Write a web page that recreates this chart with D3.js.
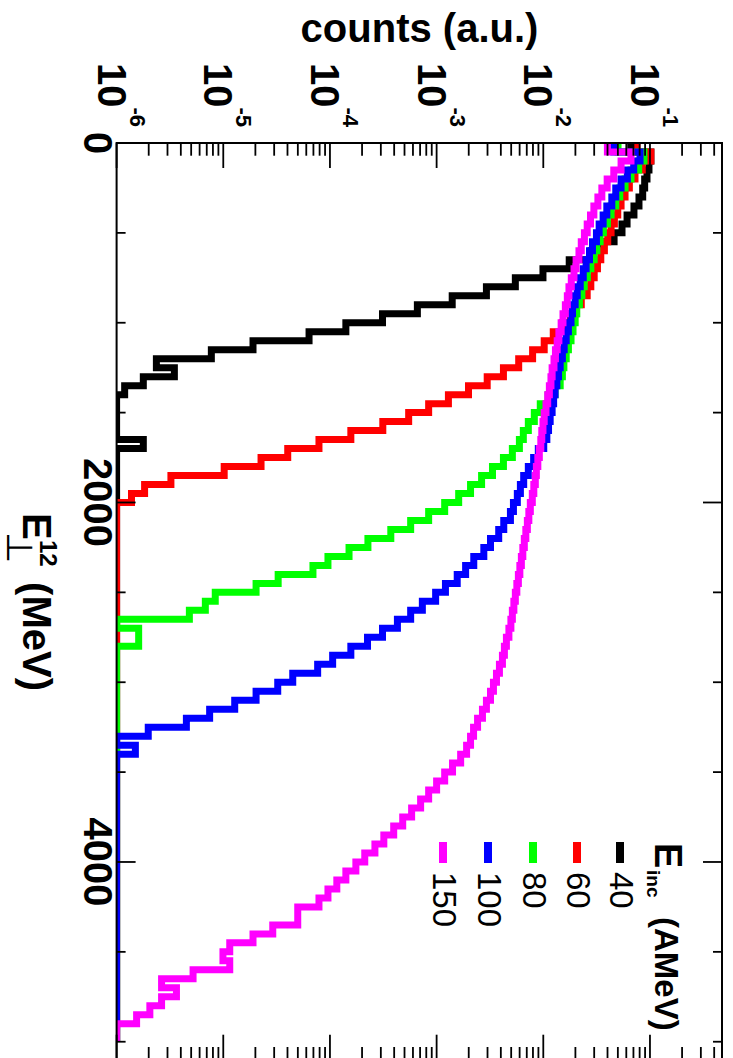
<!DOCTYPE html>
<html><head><meta charset="utf-8">
<script src="https://cdn.jsdelivr.net/npm/d3@7"></script>
<style>html,body{margin:0;padding:0;background:#fff}svg{display:block}</style>
</head><body>
<svg id="c" width="733" height="1058"></svg>
<script>
// ---------------- data ----------------
const binWidth = 50; // MeV, bins from 0 to 5000
const energies = ["40", "60", "80", "100", "150"];
const colors = ["#000000", "#ff0000", "#00ff00", "#0000ff", "#ff00ff"];
const xTickValues = [0, 500, 1000, 1500, 2000, 2500, 3000, 3500, 4000, 4500, 5000];
const xTickLabels = ["0", "2000", "4000"];
const yDecades = [-6, -5, -4, -3, -2, -1];

const counts40 = [
 0.0660,0.102,0.0979,0.0938,0.0892,0.0855,0.0789,0.0708,0.0610,0.0547,
 0.0461,0.0341,0.0281,0.0175,0.00993,0.00547,0.00293,0.00140,0.000660,0.000311,
 0.000141,6.37e-5,1.90e-5,7.73e-6,2.36e-6,3.48e-6,1.78e-6,1.19e-6,0,0,
 0,0,0,1.78e-6,0,0,0,0,0,0,
 0,0,0,0,0,0,0,0,0,0, 0,0,0,0,0,0,0,0,0,0,
 0,0,0,0,0,0,0,0,0,0, 0,0,0,0,0,0,0,0,0,0,
 0,0,0,0,0,0,0,0,0,0, 0,0,0,0,0,0,0,0,0,0];
const counts60 = [
 0.0756,0.102,0.0847,0.0724,0.0641,0.0584,0.0536,0.0499,0.0464,0.0432,
 0.0402,0.0374,0.0346,0.0322,0.0300,0.0279,0.0258,0.0227,0.0203,0.0179,
 0.0151,0.0124,0.0102,0.00794,0.00588,0.00423,0.00298,0.00199,0.00129,0.000842,
 0.000547,0.000313,0.000157,7.89e-5,4.02e-5,2.26e-5,1.02e-5,3.23e-6,1.83e-6,1.38e-6,
 0,0,0,0,0,0,0,0,0,0, 0,0,0,0,0,0,0,0,0,0,
 0,0,0,0,0,0,0,0,0,0, 0,0,0,0,0,0,0,0,0,0,
 0,0,0,0,0,0,0,0,0,0, 0,0,0,0,0,0,0,0,0,0];
const counts80 = [
 0.0502,0.0879,0.0784,0.0664,0.0584,0.0521,0.0478,0.0432,0.0399,0.0366,
 0.0341,0.0318,0.0300,0.0279,0.0259,0.0242,0.0230,0.0218,0.0206,0.0199,
 0.0190,0.0182,0.0172,0.0164,0.0156,0.0151,0.0144,0.0129,0.0111,0.00937,
 0.00824,0.00724,0.00650,0.00597,0.00513,0.00423,0.00334,0.00264,0.00208,0.00161,
 0.00119,0.000842,0.000571,0.000372,0.000227,0.000151,9.58e-5,6.93e-5,3.27e-5,2.03e-5,
 8.41e-6,6.79e-6,4.81e-6,0,1.61e-6,1.61e-6,0,0,0,0,
 0,0,0,0,0,0,0,0,0,0, 0,0,0,0,0,0,0,0,0,0,
 0,0,0,0,0,0,0,0,0,0, 0,0,0,0,0,0,0,0,0,0];
const counts100 = [
 0.0458,0.0807,0.0704,0.0614,0.0536,0.0478,0.0439,0.0394,0.0364,0.0334,
 0.0315,0.0289,0.0271,0.0252,0.0237,0.0222,0.0208,0.0199,0.0188,0.0182,
 0.0172,0.0164,0.0157,0.0151,0.0144,0.0139,0.0134,0.0129,0.0125,0.0121,
 0.0116,0.0112,0.0108,0.0101,0.00898,0.00812,0.00724,0.00655,0.00610,0.00571,
 0.00525,0.00492,0.00426,0.00382,0.00320,0.00277,0.00223,0.00187,0.00156,0.00121,
 0.000979,0.000735,0.000571,0.000429,0.000311,0.000225,0.000157,0.000106,7.67e-5,4.48e-5,
 3.24e-5,2.03e-5,1.28e-5,7.45e-6,4.51e-6,1.98e-6,0,1.5e-6,0,0,
 0,0,0,0,0,0,0,0,0,0, 0,0,0,0,0,0,0,0,0,0,
 0,0,0,0,0,0,0,0,0,0];
const counts150 = [
 0.0399,0.0664,0.0536,0.0458,0.0397,0.0354,0.0325,0.0298,0.0277,0.0258,
 0.0243,0.0227,0.0216,0.0203,0.0194,0.0183,0.0174,0.0168,0.0161,0.0153,
 0.0147,0.0140,0.0135,0.0130,0.0126,0.0121,0.0118,0.0114,0.0110,0.0106,
 0.0102,0.00993,0.00968,0.00948,0.00918,0.00889,0.00861,0.00842,0.00815,0.00789,
 0.00756,0.00732,0.00709,0.00686,0.00664,0.00643,0.00623,0.00603,0.00584,0.00565,
 0.00547,0.00530,0.00513,0.00497,0.00476,0.00451,0.00432,0.00414,0.00388,0.00364,
 0.00341,0.00320,0.00293,0.00269,0.00242,0.00222,0.00208,0.00191,0.00168,0.00141,
 0.00119,0.00100,0.000842,0.000708,0.000583,0.000481,0.000396,0.000320,0.000264,0.000212,
 0.000175,0.000141,0.000116,9.58e-5,7.89e-5,4.99e-5,4.99e-5,2.91e-5,1.90e-5,1.15e-5,
 9.93e-6,1.15e-5,5.21e-6,2.64e-6,3.64e-6,2.64e-6,2.05e-6,1.54e-6,0,0];
const series = [counts40, counts60, counts80, counts100, counts150];

// ---------------- drawing ----------------
const W = 733, H = 1058;
const FONT = "'Liberation Sans', Arial, Helvetica, sans-serif";
const svg = d3.select("#c");
svg.append("rect").attr("width", W).attr("height", H).attr("fill", "#fff");

// The chart is drawn in its natural orientation and the whole thing turned 90deg clockwise.
const g = svg.append("g").attr("transform", `translate(${W},0) rotate(90)`);
const x = d3.scaleLinear().domain([0, 5100]).range([143, 1059.7]);
const y = d3.scaleLog().domain([1e-6, 0.4735]).range([616.4, 11]);
const [X0, X1] = x.range();
const [Y0, Y1] = y.range();

g.append("clipPath").attr("id", "clip").append("rect")
  .attr("x", X0).attr("y", Y1).attr("width", X1 - X0).attr("height", Y0 - Y1);

function histPath(vals) {
  let p = "";
  vals.forEach((v, i) => {
    const yy = v > 0 ? y(Math.max(v, 1e-6)) : Y0;
    const a = x(i * binWidth), b = x((i + 1) * binWidth);
    p += (i === 0 ? `M${a},${yy}` : `V${yy}`) + `H${b}`;
  });
  return p;
}
const hg = g.append("g").attr("clip-path", "url(#clip)");
series.forEach((s, k) => {
  hg.append("path").attr("d", histPath(s)).attr("fill", "none")
    .attr("stroke", colors[k]).attr("stroke-width", 7)
    .attr("stroke-linejoin", "miter").attr("stroke-linecap", "butt");
});

// frame
g.append("rect").attr("x", X0).attr("y", Y1).attr("width", X1 - X0).attr("height", Y0 - Y1)
  .attr("fill", "none").attr("stroke", "#000").attr("stroke-width", 2);

// x ticks (both long edges)
const tk = g.append("g").attr("stroke", "#000").attr("stroke-width", 1.8);
xTickValues.forEach(t => {
  const len = (t % 2000 === 0) ? 19 : 9;
  tk.append("line").attr("x1", x(t)).attr("x2", x(t)).attr("y1", Y0).attr("y2", Y0 - len);
  tk.append("line").attr("x1", x(t)).attr("x2", x(t)).attr("y1", Y1).attr("y2", Y1 + len);
});
// log ticks
const yTicks = [];
yDecades.forEach(d => { for (let m = 1; m <= 9; m++) yTicks.push({v: m * Math.pow(10, d), major: m === 1}); });
yTicks.filter(t => t.v <= y.domain()[1]).forEach(t => {
  const len = t.major ? 25 : 12.7;
  const yy = y(t.v);
  tk.append("line").attr("x1", X0).attr("x2", X0 + len).attr("y1", yy).attr("y2", yy);
  tk.append("line").attr("x1", X1).attr("x2", X1 - len).attr("y1", yy).attr("y2", yy);
});

// ---------------- text (page coordinates) ----------------
const px = v => W - y(v);   // page x of a count value
const py = e => x(e);       // page y of an energy value
function rotText(bx, sy, anchor) {
  return svg.append("text").attr("transform", `translate(${bx},${sy}) rotate(90)`)
    .attr("text-anchor", anchor || "start").attr("font-family", FONT).attr("fill", "#000");
}

// y-axis title (horizontal after rotation)
svg.append("text").attr("x", 419.5).attr("y", 42).attr("text-anchor", "middle")
  .attr("font-family", FONT).attr("font-weight", "bold").attr("font-size", 40)
  .text("counts (a.u.)");

// log labels
yDecades.forEach(d => {
  const t = rotText(px(Math.pow(10, d)) - 19, 127, "end").attr("font-weight", "bold");
  t.append("tspan").attr("font-size", 40).text("10");
  t.append("tspan").attr("font-size", 22).attr("dy", -32).text(String(d));
});

// x labels
xTickLabels.forEach(l => {
  rotText(83.5, py(+l), "middle").attr("font-weight", "bold").attr("font-size", 40).text(l);
});

// x title  E_perp^12 (MeV)
{
  const t = rotText(23, 513).attr("font-weight", "bold").attr("font-size", 40);
  t.append("tspan").text("E");
  t.append("tspan").attr("x", 19).attr("y", 16).attr("font-size", 36).attr("font-weight", "normal").text("\u22A5");
  t.append("tspan").attr("x", 27).attr("y", -17).attr("font-size", 24).text("12");
  t.append("tspan").attr("x", 58).attr("y", 0).text(" (MeV)");
}

// legend
{
  const t = rotText(655, 843).attr("font-weight", "bold");
  t.append("tspan").attr("font-size", 38).text("E");
  t.append("tspan").attr("x", 27).attr("y", 8).attr("font-size", 19).text("inc");
  t.append("tspan").attr("x", 74).attr("y", 0).attr("font-size", 33).text("(AMeV)");
}
const legendBase = [610, 567, 523, 478, 433];
energies.forEach((e, k) => {
  const cx = legendBase[k] + 10;
  svg.append("line").attr("x1", cx).attr("x2", cx).attr("y1", 842).attr("y2", 863)
    .attr("stroke", colors[k]).attr("stroke-width", 8);
  rotText(legendBase[k], 872).attr("font-size", 33).text(e);
});
</script>
</body></html>
